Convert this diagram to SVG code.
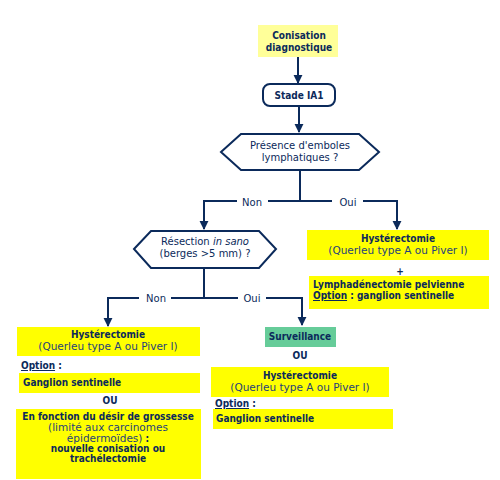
<svg xmlns="http://www.w3.org/2000/svg" width="500" height="480" viewBox="0 0 500 480">
<defs>
<marker id="ah" viewBox="0 0 10 10" refX="9" refY="5" markerWidth="4.6" markerHeight="4.6" markerUnits="strokeWidth" orient="auto">
<path d="M0,0 L10,5 L0,10 z" fill="#0b2a5b"/>
</marker>
<style>
text{font-family:"DejaVu Sans","Verdana",sans-serif;font-size:10px;fill:#0b2a5b}
.b{font-family:"DejaVu Sans Condensed","DejaVu Sans",sans-serif;font-weight:bold}
.l{font-size:10.5px;fill:#1f3f7a}
.c{text-anchor:middle}
.y{fill:#ffff00}
.ly{fill:#ffff99}
.line{fill:none;stroke:#0b2a5b;stroke-width:2}
.shape{fill:#ffffff;stroke:#0b2a5b;stroke-width:2}
</style>
</defs>
<rect width="500" height="480" fill="#ffffff"/>
<g id="connectors">
<path class="line" d="M298,57 V83" marker-end="url(#ah)"/>
<path class="line" d="M299,106 V132" marker-end="url(#ah)"/>
<path class="line" d="M300,170 V201 H268"/>
<path class="line" d="M237,201 H204 V229" marker-end="url(#ah)"/>
<path class="line" d="M300,201 H332"/>
<path class="line" d="M363,201 H397 V229" marker-end="url(#ah)"/>
<path class="line" d="M204,268 V298 H171"/>
<path class="line" d="M139,298 H108 V326" marker-end="url(#ah)"/>
<path class="line" d="M204,298 H238"/>
<path class="line" d="M266,298 H302 V325" marker-end="url(#ah)"/>
<text x="252" y="206" class="c">Non</text>
<text x="348" y="206" class="c">Oui</text>
<text x="156" y="302" class="c">Non</text>
<text x="252" y="302" class="c">Oui</text>
</g>
<g id="conisation">
<rect x="258" y="25" width="80" height="32" class="ly"/>
<text x="299" y="39" class="c b">Conisation</text>
<text x="299" y="51" class="c b">diagnostique</text>
</g>
<g id="stade">
<rect x="263" y="84" width="72" height="22" rx="7" class="shape"/>
<text x="299" y="99" class="c b">Stade IA1</text>
</g>
<g id="emboles">
<polygon points="221,152 241,134 359,134 379,152 359,170 241,170" class="shape"/>
<text x="300" y="149" class="c">Présence d'emboles</text>
<text x="300" y="161" class="c">lymphatiques ?</text>
</g>
<g id="resection">
<polygon points="134,249 151,231 259,231 276,249 259,268 151,268" class="shape"/>
<text x="205" y="245" class="c">Résection <tspan font-style="italic">in sano</tspan></text>
<text x="205" y="257" class="c">(berges &gt;5 mm) ?</text>
</g>
<g id="hyst-right">
<rect x="307" y="230" width="182" height="30" class="y"/>
<text x="398" y="242" class="c b">Hystérectomie</text>
<text x="398" y="254" class="c l">(Querleu type A ou Piver I)</text>
</g>
<text x="400" y="275" class="c b">+</text>
<g id="lymph">
<rect x="309" y="276" width="180" height="33" class="y"/>
<text x="313" y="288" class="b">Lymphadénectomie pelvienne</text>
<text x="313" y="299" class="b"><tspan text-decoration="underline">Option</tspan> : ganglion sentinelle</text>
</g>
<g id="hyst-left">
<rect x="17" y="327" width="183" height="29" class="y"/>
<text x="108" y="338" class="c b">Hystérectomie</text>
<text x="108" y="350" class="c l">(Querleu type A ou Piver I)</text>
</g>
<text x="21" y="369" class="b"><tspan text-decoration="underline">Option</tspan> :</text>
<g id="ganglion-left">
<rect x="19" y="373" width="181" height="20" class="y"/>
<text x="23" y="386" class="b">Ganglion sentinelle</text>
</g>
<text x="110" y="404" class="c b">OU</text>
<g id="grossesse">
<rect x="16" y="409" width="185" height="70" class="y"/>
<text x="108" y="420" class="c b">En fonction du désir de grossesse</text>
<text x="108" y="431" class="c l">(limité aux carcinomes</text>
<text x="108" y="442" class="c"><tspan class="l">épidermoïdes)</tspan><tspan class="b"> :</tspan></text>
<text x="108" y="452" class="c b">nouvelle conisation ou</text>
<text x="108" y="462" class="c b">trachélectomie</text>
</g>
<g id="surveillance">
<rect x="265" y="327" width="71" height="20" fill="#66cc99"/>
<text x="300" y="340" class="c b">Surveillance</text>
</g>
<text x="300" y="359" class="c b">OU</text>
<g id="hyst-mid">
<rect x="211" y="367" width="178" height="30" class="y"/>
<text x="300" y="379" class="c b">Hystérectomie</text>
<text x="300" y="391" class="c l">(Querleu type A ou Piver I)</text>
</g>
<text x="215" y="407" class="b"><tspan text-decoration="underline">Option</tspan> :</text>
<g id="ganglion-mid">
<rect x="213" y="409" width="180" height="20" class="y"/>
<text x="216" y="422" class="b">Ganglion sentinelle</text>
</g>
</svg>
